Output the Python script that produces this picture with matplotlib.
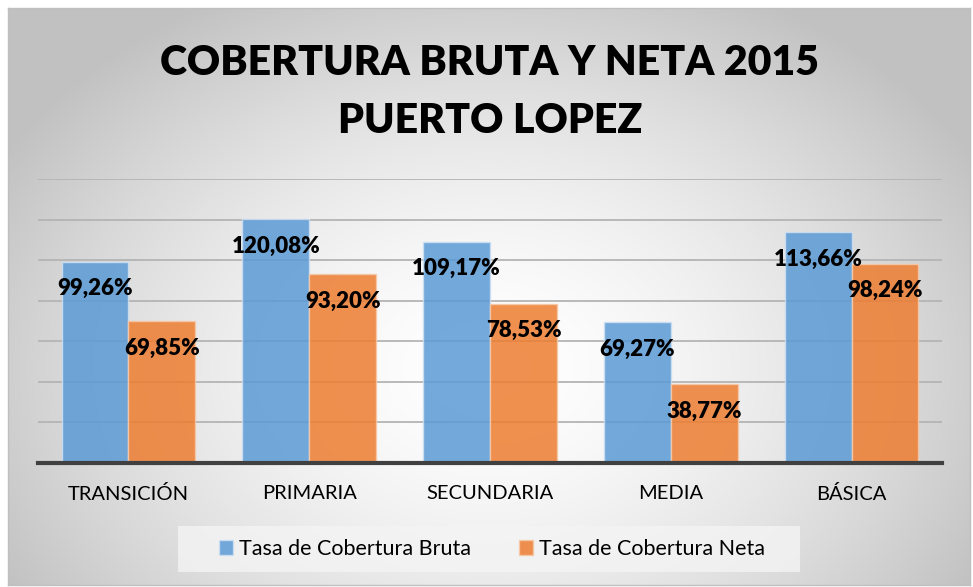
import numpy as np
import matplotlib.pyplot as plt
from matplotlib.patches import Rectangle

niveles = ['TRANSICIÓN', 'PRIMARIA', 'SECUNDARIA', 'MEDIA', 'BÁSICA']
bruta = [99.26, 120.08, 109.17, 69.27, 113.66]
neta = [69.85, 93.20, 78.53, 38.77, 98.24]
series = ['Tasa de Cobertura Bruta', 'Tasa de Cobertura Neta']
titulo = 'COBERTURA BRUTA Y NETA 2015\nPUERTO LOPEZ'

plt.rcParams['font.family'] = ['Lato', 'DejaVu Sans']

W, H = 973, 587
fig = plt.figure(figsize=(W / 100, H / 100), dpi=100)

# fondo con degradado radial
bg = fig.add_axes([8 / W, 2 / H, 962 / W, 577 / H])
yy, xx = np.mgrid[0:577, 0:962]
r = np.sqrt(((xx - 480) / 560.0) ** 2 + ((yy - 360) / 420.0) ** 2)
g = 1.0 - 0.24 * np.clip(r, 0, 1) ** 1.6
bg.imshow(np.dstack([g, g, g]), aspect='auto', extent=(0, 962, 577, 0))
bg.set_xticks([])
bg.set_yticks([])
for s in bg.spines.values():
    s.set_color('#bfbfbf')
    s.set_linewidth(1)

# caja de la leyenda
fig.patches.append(Rectangle((178 / W, 1 - 572 / H), 622 / W, 46 / H,
                             transform=fig.transFigure, facecolor='#f4f4f4',
                             edgecolor='none', alpha=0.8, zorder=1))

ax = fig.add_axes([38 / W, 1 - 463 / H, 904 / W, 284 / H])
ax.set_facecolor('none')

x = np.arange(len(niveles))
w = 0.37
b1 = ax.bar(x - w / 2, bruta, w, color='#5B9BD5', alpha=0.85, edgecolor='#cfe0f2',
            linewidth=1, label=series[0], zorder=3)
b2 = ax.bar(x + w / 2, neta, w, color='#ED7D31', alpha=0.85, edgecolor='#f7c9a8',
            linewidth=1, label=series[1], zorder=3)

for bars, vals in [(b1, bruta), (b2, neta)]:
    for rect, v in zip(bars, vals):
        ax.annotate(f'{v:.2f}%'.replace('.', ','),
                    (rect.get_x() + rect.get_width() / 2, rect.get_height()),
                    xytext=(0, -19.5), textcoords='offset points',
                    ha='center', va='center', fontsize=16, fontweight='heavy',
                    color='black', zorder=5)

ax.set_xlim(-0.5, len(niveles) - 0.5)
ax.set_ylim(0, 140)
ax.set_yticks(np.arange(0, 141, 20))
ax.yaxis.grid(True, color='#b4b4b4', linewidth=1.3, zorder=0)
ax.set_axisbelow(True)
ax.tick_params(axis='y', left=False, labelleft=False)
ax.tick_params(axis='x', length=0, pad=16, labelsize=14.5)
ax.set_xticks(x)
ax.set_xticklabels(niveles)
for s in ['top', 'right', 'left']:
    ax.spines[s].set_visible(False)
ax.spines['bottom'].set_color('#404040')
ax.spines['bottom'].set_linewidth(3)
ax.spines['bottom'].set_zorder(4)

fig.text(490 / W, 1 - 92 / H, titulo, ha='center', va='center',
         fontsize=29.5, fontweight='heavy', linespacing=1.65)

fig.legend(handles=[b1, b2], loc='center', bbox_to_anchor=(492 / W, 1 - 549 / H),
           ncol=2, frameon=False, fontsize=15.5, handlelength=0.65, handleheight=0.65,
           handletextpad=0.3, columnspacing=2.2)

fig.savefig('out.png', dpi=100)
